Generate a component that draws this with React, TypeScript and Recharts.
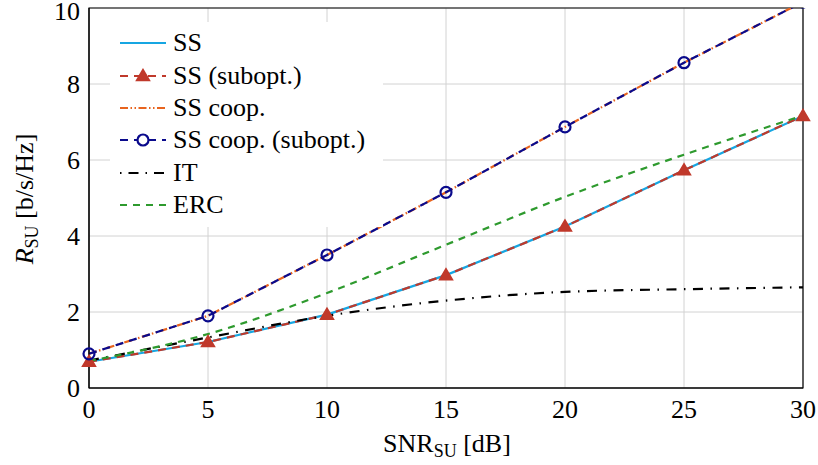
import React from 'react';
import { LineChart, Line, XAxis, YAxis, CartesianGrid, ReferenceArea, Legend, Label } from 'recharts';

const snr = [0, 5, 10, 15, 20, 25, 30];
const ss = [0.69, 1.21, 1.93, 2.97, 4.25, 5.73, 7.16];
const ssSubopt = [0.69, 1.21, 1.93, 2.97, 4.25, 5.73, 7.16];
const ssCoop = [0.9, 1.9, 3.5, 5.15, 6.87, 8.56, 10.16];
const ssCoopSubopt = [0.9, 1.9, 3.5, 5.15, 6.87, 8.56, 10.16];
const it = [0.72, 1.33, 1.9, 2.3, 2.53, 2.6, 2.65];
const erc = [0.71, 1.42, 2.5, 3.77, 5.03, 6.14, 7.17];

const xTicks = [0, 5, 10, 15, 20, 25, 30];
const yTicks = [0, 2, 4, 6, 8, 10];

const data = snr.map((x, i) => ({
  x,
  ss: ss[i],
  ssSubopt: ssSubopt[i],
  ssCoop: ssCoop[i],
  ssCoopSubopt: ssCoopSubopt[i],
  it: it[i],
  erc: erc[i],
}));

const FONT = '"Liberation Serif", "Times New Roman", serif';
const C_SS = '#16a6e2';
const C_SUB = '#c0392b';
const C_COOP = '#e8641e';
const C_COOPSUB = '#0a0a8c';
const C_IT = '#000000';
const C_ERC = '#2e9a2e';

const Triangle = (props: any) => {
  const { cx, cy } = props;
  if (cx == null || cy == null) return null;
  const s = 6.5;
  return (
    <polygon
      points={`${cx},${cy - s} ${cx - s},${cy + s * 0.7} ${cx + s},${cy + s * 0.7}`}
      fill={C_SUB}
      stroke={C_SUB}
      strokeWidth={1.5}
      strokeLinejoin="miter"
    />
  );
};

const Circle = (props: any) => {
  const { cx, cy } = props;
  if (cx == null || cy == null) return null;
  return <circle cx={cx} cy={cy} r={5.5} fill="none" stroke={C_COOPSUB} strokeWidth={2.2} />;
};

const YTick = (props: any) => {
  const { x, y, payload } = props;
  const shift = payload.value === 10 ? 3 : 0;
  return (
    <text
      x={x}
      y={y + shift}
      dy="0.355em"
      textAnchor="end"
      fontFamily={FONT}
      fontSize={26}
      fill="#000"
    >
      {payload.value}
    </text>
  );
};

const legendItems = [
  { label: 'SS', color: C_SS, dash: undefined as string | undefined, marker: null as string | null },
  { label: 'SS (subopt.)', color: C_SUB, dash: '8 6', marker: 'tri' },
  { label: 'SS coop.', color: C_COOP, dash: '8 2.5 1.5 2.5 1.5 2.5', marker: null },
  { label: 'SS coop. (subopt.)', color: C_COOPSUB, dash: '8 6', marker: 'circ' },
  { label: 'IT', color: C_IT, dash: '1.5 7 10 7', marker: null },
  { label: 'ERC', color: C_ERC, dash: '7 6', marker: null },
];

const LegendContent = () => (
  <div
    style={{
      background: '#fff',
      width: 273,
      paddingTop: 5,
      paddingBottom: 6,
      boxSizing: 'border-box',
      fontFamily: FONT,
      fontSize: 26,
      color: '#000',
    }}
  >
    {legendItems.map((it2) => (
      <div key={it2.label} style={{ display: 'flex', alignItems: 'center', height: 32.4, whiteSpace: 'nowrap' }}>
        <svg width={63} height={20} style={{ flex: 'none', marginLeft: 10 }}>
          <line x1={0} y1={10} x2={46} y2={10} stroke={it2.color} strokeWidth={2.2} strokeDasharray={it2.dash} />
          {it2.marker === 'tri' ? (
            <polygon points="23,3.5 16.5,14.5 29.5,14.5" fill={C_SUB} stroke={C_SUB} strokeWidth={1.5} />
          ) : null}
          {it2.marker === 'circ' ? (
            <circle cx={23} cy={10} r={5.5} fill="#fff" stroke={C_COOPSUB} strokeWidth={2.2} />
          ) : null}
        </svg>
        <span style={{ lineHeight: '26px', marginLeft: -10 }}>{it2.label}</span>
      </div>
    ))}
  </div>
);

const XTitle = () => (
  <text x={447} y={452} textAnchor="middle" fontFamily={FONT} fontSize={26} fill="#000">
    <tspan>SNR</tspan>
    <tspan fontSize={18} dy={5}>SU</tspan>
    <tspan dy={-5}> [dB]</tspan>
  </text>
);

const YTitle = () => (
  <text
    x={33}
    y={199}
    transform="rotate(-90, 33, 199)"
    textAnchor="middle"
    fontFamily={FONT}
    fontSize={26}
    fill="#000"
  >
    <tspan fontStyle="italic">R</tspan>
    <tspan fontSize={18} dy={5}>SU</tspan>
    <tspan dy={-5}> [b/s/Hz]</tspan>
  </text>
);

export default function App() {
  return (
    <div style={{ position: 'absolute', left: 0, top: 0, width: 818, height: 465, background: '#fff' }}>
      <LineChart
        width={818}
        height={465}
        data={data}
        margin={{ top: 8, right: 15, bottom: 47, left: 29 }}
      >
        <CartesianGrid stroke="#d2d2d2" strokeWidth={1} />
        <XAxis
          dataKey="x"
          type="number"
          domain={[0, 30]}
          ticks={xTicks}
          height={30}
          tickLine={false}
          tickSize={0}
          tickMargin={12}
          axisLine={{ stroke: '#000' }}
          tick={{ fontFamily: FONT, fontSize: 26, fill: '#000' }}
          interval={0}
        >
          <Label content={<XTitle />} />
        </XAxis>
        <YAxis
          type="number"
          domain={[0, 10]}
          ticks={yTicks}
          allowDataOverflow
          width={60}
          tickLine={false}
          tickSize={0}
          tickMargin={9}
          axisLine={{ stroke: '#000' }}
          tick={<YTick />}
          interval={0}
        >
          <Label content={<YTitle />} />
        </YAxis>
        <Legend
          layout="horizontal"
          verticalAlign="middle"
          align="center"
          wrapperStyle={{ position: 'absolute', left: 110, top: 22, width: 273 }}
          content={<LegendContent />}
        />
        <Line dataKey="ss" stroke={C_SS} strokeWidth={2.2} dot={false} isAnimationActive={false} type="linear" />
        <Line
          dataKey="ssSubopt"
          stroke={C_SUB}
          strokeWidth={2.2}
          strokeDasharray="8 6"
          dot={<Triangle />}
          isAnimationActive={false}
          type="linear"
        />
        <Line
          dataKey="ssCoop"
          stroke={C_COOP}
          strokeWidth={2.2}
          strokeDasharray="8 2.5 1.5 2.5 1.5 2.5"
          dot={false}
          isAnimationActive={false}
          type="linear"
        />
        <Line
          dataKey="ssCoopSubopt"
          stroke={C_COOPSUB}
          strokeWidth={2.2}
          strokeDasharray="8 6"
          dot={<Circle />}
          isAnimationActive={false}
          type="linear"
        />
        <Line
          dataKey="it"
          stroke={C_IT}
          strokeWidth={2.2}
          strokeDasharray="10 7.5 1.5 7.5"
          dot={false}
          isAnimationActive={false}
          type="monotone"
        />
        <Line
          dataKey="erc"
          stroke={C_ERC}
          strokeWidth={2.2}
          strokeDasharray="7 6"
          dot={false}
          isAnimationActive={false}
          type="monotone"
        />
        <ReferenceArea x1={0} x2={30} y1={0} y2={10} fill="none" stroke="#000" strokeWidth={1.2} ifOverflow="visible" />
      </LineChart>
    </div>
  );
}
